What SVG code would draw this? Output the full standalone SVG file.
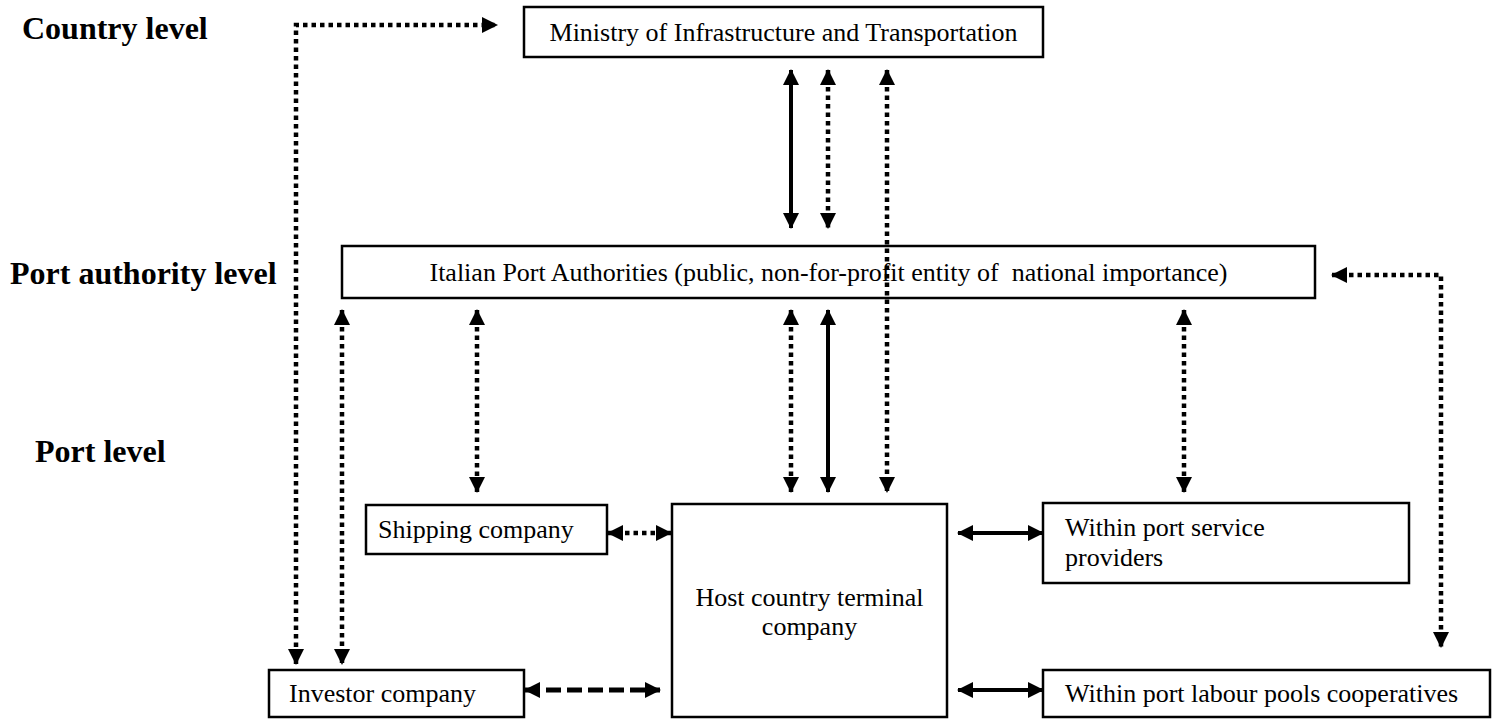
<svg xmlns="http://www.w3.org/2000/svg" width="1492" height="721" viewBox="0 0 1492 721">
<style>
.box{fill:#fff;stroke:#000;stroke-width:2.5}
.t{font-family:"Liberation Serif","Times New Roman",serif;font-size:26px;fill:#000}
.lbl{font-family:"Liberation Serif","Times New Roman",serif;font-size:32px;font-weight:bold;fill:#000}
.solid{fill:none;stroke:#000;stroke-width:4;marker-start:url(#ah);marker-end:url(#ah)}
.dot{fill:none;stroke:#000;stroke-width:4.5;stroke-dasharray:4.5 4;marker-start:url(#ah);marker-end:url(#ah)}
.dash{fill:none;stroke:#000;stroke-width:5;stroke-dasharray:15 6;marker-start:url(#ah);marker-end:url(#ah)}
</style>
<defs>
<marker id="ah" viewBox="0 0 16 16" markerWidth="16" markerHeight="16" markerUnits="userSpaceOnUse" refX="15" refY="8" orient="auto-start-reverse">
<path d="M0,0 L16,8 L0,16 z" fill="#000"/>
</marker>
</defs>
<rect width="1492" height="721" fill="#fff"/>

<g id="labels">
<text class="lbl" x="22" y="39">Country level</text>
<text class="lbl" x="10" y="284">Port authority level</text>
<text class="lbl" x="35" y="462">Port level</text>
</g>

<g id="ministry">
<rect class="box" x="524" y="7" width="519" height="50"/>
<text class="t" x="783.5" y="41" text-anchor="middle">Ministry of Infrastructure and Transportation</text>
</g>

<g id="port-authorities">
<rect class="box" x="342" y="246" width="973" height="52"/>
<text class="t" x="828.5" y="281" text-anchor="middle" xml:space="preserve">Italian Port Authorities (public, non-for-profit entity of  national importance)</text>
</g>

<g id="shipping">
<rect class="box" x="366" y="505" width="241" height="49"/>
<text class="t" x="378" y="538">Shipping company</text>
</g>

<g id="host">
<rect class="box" x="672" y="504" width="275" height="213"/>
<text class="t" x="809.5" y="606" text-anchor="middle">Host country terminal</text>
<text class="t" x="809.5" y="635" text-anchor="middle">company</text>
</g>

<g id="service">
<rect class="box" x="1043" y="503" width="366" height="80"/>
<text class="t" x="1065" y="536">Within port service</text>
<text class="t" x="1065" y="566">providers</text>
</g>

<g id="investor">
<rect class="box" x="269" y="670" width="255" height="47"/>
<text class="t" x="289" y="702">Investor company</text>
</g>

<g id="labour">
<rect class="box" x="1043" y="670" width="447" height="47"/>
<text class="t" x="1065" y="702">Within port labour pools cooperatives</text>
</g>

<g id="connectors">
<path class="dot" d="M296,664 L296,25 L497,25"/>
<path class="dot" d="M1332,275 L1441,275 L1441,647"/>
<path class="solid" d="M791,70 L791,228"/>
<path class="dot" d="M828,70 L828,228"/>
<path class="dot" d="M887,70 L887,492"/>
<path class="dot" d="M342,310 L342,664"/>
<path class="dot" d="M477,310 L477,492"/>
<path class="dot" d="M791,310 L791,492"/>
<path class="solid" d="M828,310 L828,492"/>
<path class="dot" d="M1184,310 L1184,492"/>
<path class="dot" d="M608,533 L671,533"/>
<path class="solid" d="M958,533 L1043,533"/>
<path class="dash" d="M525,690 L660,690"/>
<path class="solid" d="M958,690 L1043,690"/>
</g>
</svg>
